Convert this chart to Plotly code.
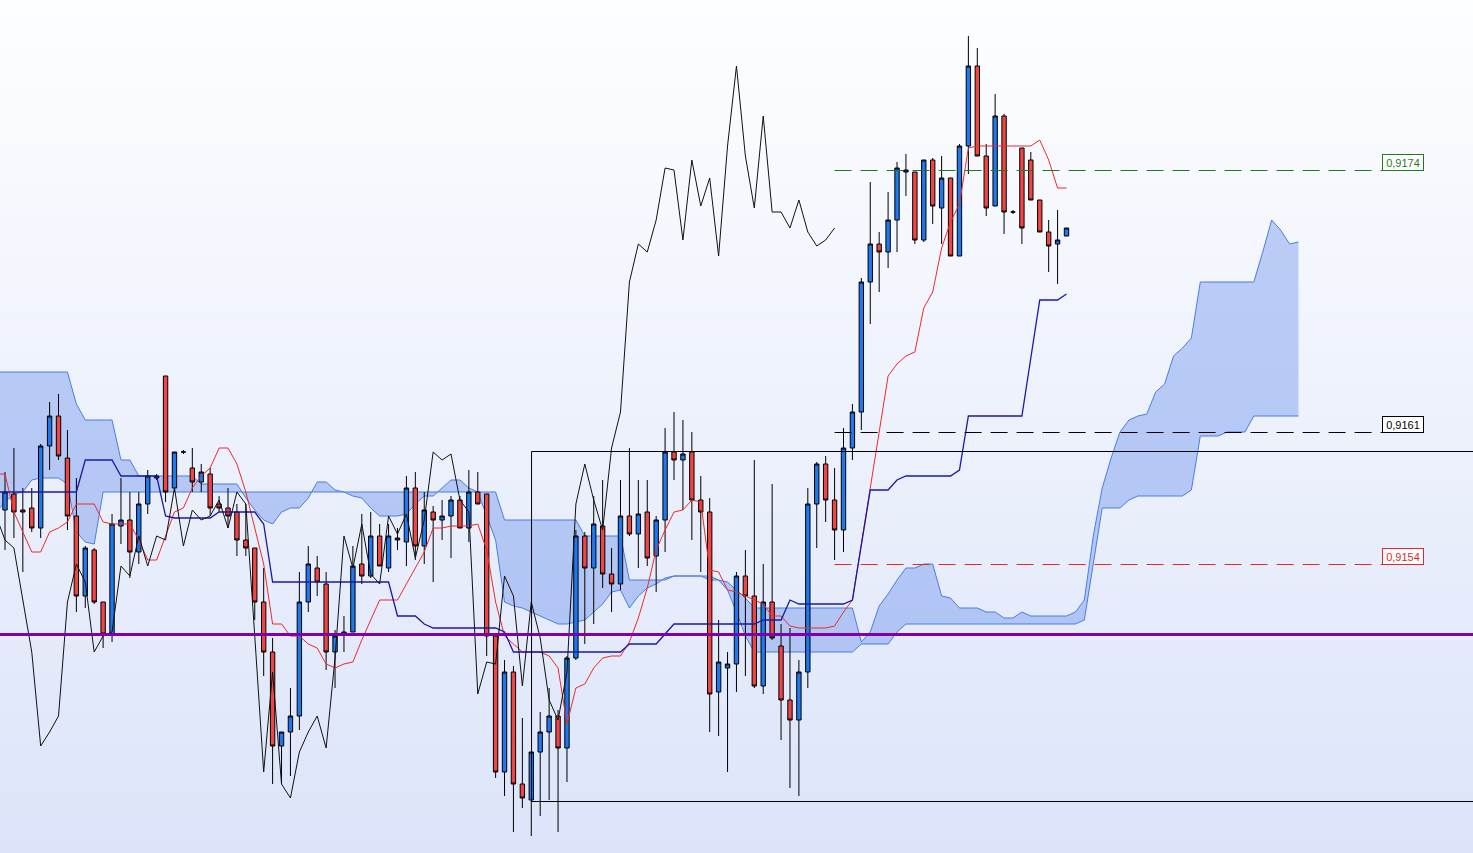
import plotly.graph_objects as go

# candles, one per bar (index 0..119)
opens = [
    0.91571, 0.91579, 0.91571, 0.91572, 0.91562, 0.91603, 0.91618, 0.91597, 0.91568, 0.91528,
    0.91551, 0.91525, 0.91509, 0.91563, 0.91566, 0.91550, 0.91574, 0.91588, 0.91638, 0.91582,
    0.91600, 0.91592, 0.91585, 0.91589, 0.91574, 0.91572, 0.91570, 0.91556, 0.91552, 0.91525,
    0.91500, 0.91453, 0.91460, 0.91468, 0.91525, 0.91542, 0.91534, 0.91500, 0.91509, 0.91510,
    0.91544, 0.91538, 0.91558, 0.91542, 0.91557, 0.91555, 0.91582, 0.91553, 0.91570, 0.91566,
    0.91568, 0.91576, 0.91562, 0.91580, 0.91579, 0.91508, 0.91440, 0.91490, 0.91434, 0.91426,
    0.91450, 0.91460, 0.91468, 0.91452, 0.91497, 0.91558, 0.91542, 0.91563, 0.91539, 0.91534,
    0.91568, 0.91559, 0.91570, 0.91548, 0.91566, 0.91600, 0.91596, 0.91600, 0.91576, 0.91570,
    0.91480, 0.91492, 0.91494, 0.91538, 0.91528, 0.91483, 0.91525, 0.91503, 0.91476, 0.91466,
    0.91490, 0.91574, 0.91594, 0.91576, 0.91561, 0.91602, 0.91620, 0.91685, 0.91704, 0.91700,
    0.91716, 0.91740, 0.91740, 0.91706, 0.91746, 0.91722, 0.91737, 0.91698, 0.91753, 0.91793,
    0.91748, 0.91723, 0.91768, 0.91720, 0.91752, 0.91746, 0.91726, 0.91710, 0.91704, 0.91708,
]
highs = [
    0.91590, 0.91602, 0.91582, 0.91582, 0.91604, 0.91625, 0.91629, 0.91611, 0.91587, 0.91553,
    0.91552, 0.91525, 0.91569, 0.91587, 0.91580, 0.91580, 0.91591, 0.91589, 0.91638, 0.91600,
    0.91601, 0.91602, 0.91594, 0.91592, 0.91578, 0.91582, 0.91574, 0.91574, 0.91552, 0.91542,
    0.91507, 0.91460, 0.91482, 0.91540, 0.91553, 0.91548, 0.91540, 0.91511, 0.91518, 0.91553,
    0.91569, 0.91570, 0.91564, 0.91564, 0.91562, 0.91588, 0.91590, 0.91580, 0.91573, 0.91576,
    0.91578, 0.91578, 0.91591, 0.91590, 0.91579, 0.91508, 0.91496, 0.91493, 0.91467, 0.91450,
    0.91470, 0.91482, 0.91471, 0.91498, 0.91561, 0.91560, 0.91578, 0.91586, 0.91552, 0.91586,
    0.91602, 0.91586, 0.91586, 0.91568, 0.91612, 0.91620, 0.91616, 0.91610, 0.91588, 0.91577,
    0.91516, 0.91500, 0.91540, 0.91551, 0.91596, 0.91544, 0.91584, 0.91514, 0.91512, 0.91496,
    0.91582, 0.91595, 0.91598, 0.91592, 0.91612, 0.91624, 0.91687, 0.91735, 0.91710, 0.91730,
    0.91745, 0.91749, 0.91740, 0.91746, 0.91747, 0.91748, 0.91737, 0.91754, 0.91808, 0.91802,
    0.91754, 0.91779, 0.91769, 0.91721, 0.91752, 0.91750, 0.91726, 0.91716, 0.91721, 0.91712,
]
lows = [
    0.91551, 0.91557, 0.91540, 0.91560, 0.91557, 0.91591, 0.91596, 0.91561, 0.91520, 0.91522,
    0.91524, 0.91502, 0.91505, 0.91554, 0.91537, 0.91544, 0.91569, 0.91586, 0.91575, 0.91580,
    0.91599, 0.91580, 0.91580, 0.91568, 0.91570, 0.91562, 0.91548, 0.91548, 0.91516, 0.91488,
    0.91434, 0.91434, 0.91438, 0.91461, 0.91520, 0.91528, 0.91491, 0.91482, 0.91500, 0.91510,
    0.91534, 0.91537, 0.91543, 0.91540, 0.91551, 0.91543, 0.91546, 0.91544, 0.91535, 0.91556,
    0.91547, 0.91562, 0.91555, 0.91574, 0.91498, 0.91437, 0.91428, 0.91410, 0.91422, 0.91408,
    0.91418, 0.91426, 0.91410, 0.91435, 0.91496, 0.91504, 0.91514, 0.91532, 0.91520, 0.91531,
    0.91558, 0.91542, 0.91543, 0.91530, 0.91550, 0.91586, 0.91571, 0.91556, 0.91540, 0.91460,
    0.91458, 0.91440, 0.91480, 0.91488, 0.91482, 0.91479, 0.91506, 0.91456, 0.91432, 0.91428,
    0.91482, 0.91552, 0.91565, 0.91546, 0.91550, 0.91596, 0.91611, 0.91664, 0.91680, 0.91692,
    0.91700, 0.91728, 0.91704, 0.91705, 0.91714, 0.91704, 0.91698, 0.91698, 0.91739, 0.91748,
    0.91718, 0.91723, 0.91709, 0.91719, 0.91704, 0.91726, 0.91710, 0.91690, 0.91684, 0.91708,
]
closes = [
    0.91580, 0.91570, 0.91570, 0.91562, 0.91603, 0.91618, 0.91598, 0.91568, 0.91528, 0.91552,
    0.91525, 0.91509, 0.91564, 0.91566, 0.91550, 0.91574, 0.91588, 0.91587, 0.91580, 0.91600,
    0.91600, 0.91585, 0.91590, 0.91572, 0.91572, 0.91568, 0.91556, 0.91552, 0.91525, 0.91500,
    0.91453, 0.91460, 0.91468, 0.91525, 0.91544, 0.91535, 0.91500, 0.91508, 0.91510, 0.91543,
    0.91538, 0.91558, 0.91543, 0.91558, 0.91556, 0.91582, 0.91553, 0.91571, 0.91566, 0.91568,
    0.91576, 0.91562, 0.91580, 0.91574, 0.91508, 0.91440, 0.91490, 0.91434, 0.91427, 0.91450,
    0.91460, 0.91468, 0.91452, 0.91497, 0.91558, 0.91542, 0.91564, 0.91539, 0.91534, 0.91568,
    0.91559, 0.91569, 0.91547, 0.91566, 0.91600, 0.91596, 0.91599, 0.91576, 0.91570, 0.91479,
    0.91495, 0.91494, 0.91538, 0.91528, 0.91483, 0.91525, 0.91507, 0.91476, 0.91466, 0.91490,
    0.91574, 0.91594, 0.91576, 0.91561, 0.91602, 0.91620, 0.91685, 0.91704, 0.91700, 0.91716,
    0.91742, 0.91741, 0.91706, 0.91746, 0.91723, 0.91737, 0.91698, 0.91753, 0.91793, 0.91748,
    0.91722, 0.91768, 0.91720, 0.91720, 0.91712, 0.91726, 0.91710, 0.91703, 0.91706, 0.91712,
]

# ichimoku lines, starting one bar before the first candle (index -1)
tenkan = [
    0.91589,
    0.91589, 0.91570, 0.91560, 0.91550, 0.91550, 0.91560, 0.91562, 0.91565, 0.91574, 0.91574,
    0.91574, 0.91565, 0.91564, 0.91564, 0.91564, 0.91556, 0.91546, 0.91546, 0.91558, 0.91570,
    0.91572, 0.91582, 0.91588, 0.91592, 0.91602, 0.91602, 0.91594, 0.91580, 0.91562, 0.91544,
    0.91514, 0.91514, 0.91508, 0.91508, 0.91504, 0.91502, 0.91494, 0.91492, 0.91494, 0.91495,
    0.91506, 0.91516, 0.91526, 0.91526, 0.91526, 0.91534, 0.91542, 0.91550, 0.91562, 0.91562,
    0.91563, 0.91563, 0.91563, 0.91564, 0.91551, 0.91525, 0.91508, 0.91504, 0.91500, 0.91500,
    0.91500, 0.91498, 0.91492, 0.91464, 0.91482, 0.91484, 0.91492, 0.91497, 0.91498, 0.91498,
    0.91505, 0.91517, 0.91532, 0.91551, 0.91561, 0.91570, 0.91571, 0.91576, 0.91575, 0.91541,
    0.91540, 0.91531, 0.91530, 0.91528, 0.91526, 0.91524, 0.91518, 0.91518, 0.91513, 0.91512,
    0.91512, 0.91512, 0.91512, 0.91513, 0.91520, 0.91526, 0.91554, 0.91581, 0.91608, 0.91638,
    0.91644, 0.91648, 0.91650, 0.91672, 0.91680, 0.91702, 0.91715, 0.91724, 0.91752, 0.91753,
    0.91753, 0.91753, 0.91753, 0.91753, 0.91753, 0.91753, 0.91756, 0.91746, 0.91732, 0.91732,
]
kijun = [
    0.91580,
    0.91580, 0.91580, 0.91580, 0.91580, 0.91580, 0.91580, 0.91580, 0.91580, 0.91580, 0.91596,
    0.91596, 0.91596, 0.91596, 0.91588, 0.91588, 0.91588, 0.91588, 0.91588, 0.91568, 0.91567,
    0.91567, 0.91567, 0.91567, 0.91567, 0.91570, 0.91570, 0.91570, 0.91570, 0.91570, 0.91564,
    0.91535, 0.91535, 0.91535, 0.91535, 0.91535, 0.91535, 0.91535, 0.91535, 0.91535, 0.91535,
    0.91535, 0.91535, 0.91535, 0.91535, 0.91518, 0.91518, 0.91518, 0.91514, 0.91512, 0.91512,
    0.91512, 0.91512, 0.91512, 0.91512, 0.91512, 0.91512, 0.91510, 0.91500, 0.91500, 0.91500,
    0.91500, 0.91500, 0.91500, 0.91500, 0.91500, 0.91500, 0.91500, 0.91500, 0.91500, 0.91500,
    0.91504, 0.91504, 0.91504, 0.91504, 0.91509, 0.91514, 0.91514, 0.91514, 0.91514, 0.91514,
    0.91514, 0.91514, 0.91514, 0.91514, 0.91514, 0.91516, 0.91516, 0.91516, 0.91526, 0.91524,
    0.91524, 0.91524, 0.91524, 0.91524, 0.91524, 0.91526, 0.91554, 0.91581, 0.91581, 0.91581,
    0.91586, 0.91588, 0.91588, 0.91588, 0.91588, 0.91588, 0.91588, 0.91591, 0.91618, 0.91618,
    0.91618, 0.91618, 0.91618, 0.91618, 0.91618, 0.91647, 0.91676, 0.91676, 0.91676, 0.91679,
]
# cloud edges, shifted 26 bars ahead (index -1..145)
span_a = [
    0.91640,
    0.91640, 0.91640, 0.91640, 0.91640, 0.91640, 0.91640, 0.91640, 0.91640, 0.91624, 0.91616,
    0.91616, 0.91616, 0.91616, 0.91596, 0.91596, 0.91588, 0.91588, 0.91588, 0.91588, 0.91588,
    0.91588, 0.91588, 0.91584, 0.91584, 0.91584, 0.91584, 0.91584, 0.91577, 0.91571, 0.91566,
    0.91564, 0.91570, 0.91572, 0.91572, 0.91577, 0.91585, 0.91585, 0.91581, 0.91580, 0.91578,
    0.91577, 0.91572, 0.91568, 0.91568, 0.91568, 0.91569, 0.91574, 0.91578, 0.91578, 0.91582,
    0.91586, 0.91586, 0.91582, 0.91580, 0.91568, 0.91556, 0.91525, 0.91523, 0.91522, 0.91520,
    0.91518, 0.91516, 0.91514, 0.91514, 0.91515, 0.91516, 0.91520, 0.91524, 0.91530, 0.91531,
    0.91522, 0.91528, 0.91532, 0.91534, 0.91537, 0.91538, 0.91538, 0.91538, 0.91538, 0.91538,
    0.91536, 0.91531, 0.91520, 0.91508, 0.91500, 0.91500, 0.91500, 0.91500, 0.91500, 0.91500,
    0.91500, 0.91500, 0.91500, 0.91500, 0.91500, 0.91500, 0.91504, 0.91504, 0.91504, 0.91504,
    0.91510, 0.91514, 0.91514, 0.91514, 0.91514, 0.91514, 0.91514, 0.91514, 0.91514, 0.91514,
    0.91514, 0.91514, 0.91514, 0.91514, 0.91514, 0.91514, 0.91514, 0.91514, 0.91514, 0.91514,
    0.91514, 0.91516, 0.91544, 0.91572, 0.91572, 0.91572, 0.91576, 0.91578, 0.91578, 0.91578,
    0.91578, 0.91578, 0.91578, 0.91581, 0.91608, 0.91608, 0.91608, 0.91610, 0.91610, 0.91610,
    0.91618, 0.91618, 0.91618, 0.91618, 0.91618, 0.91618,
]
span_b = [
    0.91570,
    0.91575, 0.91579, 0.91580, 0.91586, 0.91587, 0.91587, 0.91587, 0.91584, 0.91560, 0.91555,
    0.91554, 0.91580, 0.91580, 0.91580, 0.91580, 0.91580, 0.91580, 0.91580, 0.91580, 0.91580,
    0.91580, 0.91580, 0.91580, 0.91580, 0.91580, 0.91580, 0.91580, 0.91580, 0.91580, 0.91580,
    0.91580, 0.91580, 0.91580, 0.91580, 0.91580, 0.91580, 0.91580, 0.91580, 0.91580, 0.91580,
    0.91580, 0.91580, 0.91580, 0.91580, 0.91580, 0.91580, 0.91580, 0.91580, 0.91580, 0.91580,
    0.91580, 0.91580, 0.91580, 0.91580, 0.91580, 0.91580, 0.91566, 0.91566, 0.91566, 0.91566,
    0.91566, 0.91566, 0.91566, 0.91566, 0.91566, 0.91558, 0.91558, 0.91558, 0.91558, 0.91558,
    0.91536, 0.91536, 0.91536, 0.91536, 0.91536, 0.91538, 0.91538, 0.91538, 0.91538, 0.91536,
    0.91536, 0.91535, 0.91531, 0.91527, 0.91522, 0.91522, 0.91522, 0.91522, 0.91522, 0.91522,
    0.91522, 0.91522, 0.91522, 0.91522, 0.91522, 0.91522, 0.91505, 0.91510, 0.91523, 0.91529,
    0.91536, 0.91542, 0.91542, 0.91544, 0.91544, 0.91528, 0.91527, 0.91522, 0.91522, 0.91522,
    0.91520, 0.91520, 0.91517, 0.91517, 0.91520, 0.91518, 0.91518, 0.91518, 0.91518, 0.91518,
    0.91520, 0.91526, 0.91558, 0.91582, 0.91597, 0.91610, 0.91616, 0.91618, 0.91619, 0.91630,
    0.91634, 0.91648, 0.91652, 0.91657, 0.91685, 0.91685, 0.91685, 0.91685, 0.91685, 0.91685,
    0.91685, 0.91700, 0.91716, 0.91711, 0.91704, 0.91705,
]

# horizontal levels drawn by hand on the chart
levels = [0.9174075, 0.9160975, 0.9154375]
level_labels = ["0,9174", "0,9161", "0,9154"]
level_colors = ["#1d7a1d", "#000000", "#e02a2a"]
purple_level = 0.9150875
box_left = 59.03
box_top = 0.9160025
box_bottom = 0.9142525

x_range = [-0.56, 164.57]
y_range = [0.913995, 0.91826]

bars = list(range(len(closes)))
line_x = list(range(-1, len(tenkan) - 1))
cloud_x = list(range(-1, len(span_a) - 1))
shift = 26

fig = go.Figure()

# background gradient
fig.add_trace(go.Heatmap(
    x=[x_range[0], x_range[1]], y=[y_range[0], 0.91610, y_range[1]],
    z=[[0, 0], [0.5, 0.5], [1, 1]],
    colorscale=[[0, "#dbe4f9"], [0.5, "#edf1fc"], [1, "#fdfeff"]],
    zsmooth="best", showscale=False, hoverinfo="skip",
))

fig.add_trace(go.Scatter(x=cloud_x, y=span_a, mode="lines",
                         line=dict(color="#4a7de2", width=1), hoverinfo="skip"))
fig.add_trace(go.Scatter(x=cloud_x, y=span_b, mode="lines", fill="tonexty",
                         fillcolor="rgba(100,140,236,0.40)",
                         line=dict(color="#4a7de2", width=1), hoverinfo="skip"))

# candles and lines sit on an overlaid axis pair so they are drawn above the cloud
fig.add_trace(go.Candlestick(
    x=bars, open=opens, high=highs, low=lows, close=closes,
    xaxis="x2", yaxis="y2", whiskerwidth=0,
    increasing=dict(fillcolor="#1f78ee", line=dict(color="black", width=1)),
    decreasing=dict(fillcolor="#f04545", line=dict(color="black", width=1)),
))
fig.add_trace(go.Scatter(x=line_x, y=tenkan, mode="lines", xaxis="x2", yaxis="y2",
                         line=dict(color="#ee2a2a", width=1)))
fig.add_trace(go.Scatter(x=line_x, y=kijun, mode="lines", xaxis="x2", yaxis="y2",
                         line=dict(color="#1a1aa8", width=1.3)))
fig.add_trace(go.Scatter(x=list(range(-1, len(closes) - shift)), y=closes[shift - 1:],
                         mode="lines", xaxis="x2", yaxis="y2",
                         line=dict(color="#111111", width=1)))

shapes = [
    dict(type="line", xref="paper", yref="y", x0=0, x1=1, y0=purple_level, y1=purple_level,
         line=dict(color="#8000b0", width=3)),
    dict(type="rect", xref="x", yref="y", x0=box_left, x1=170, y0=box_bottom, y1=box_top,
         line=dict(color="black", width=1)),
]
annotations = []
for value, label, color in zip(levels, level_labels, level_colors):
    shapes.append(dict(type="line", xref="x", yref="y", x0=93, x1=154.4, y0=value, y1=value,
                       line=dict(color=color, width=1, dash="17px,9px")))
    annotations.append(dict(x=154.4, y=value, xref="x", yref="y", xanchor="left", yanchor="bottom",
                            text=label, showarrow=False, width=40, height=15,
                            bgcolor="white", bordercolor=color, borderwidth=1, borderpad=0,
                            font=dict(family="Liberation Sans, Arial", size=11, color=color)))

axis_style = dict(visible=False, showgrid=False, zeroline=False, fixedrange=True)
fig.update_layout(
    width=1473, height=853,
    margin=dict(l=0, r=0, t=0, b=0),
    paper_bgcolor="white", plot_bgcolor="white",
    showlegend=False,
    xaxis=dict(range=x_range, rangeslider=dict(visible=False), **axis_style),
    yaxis=dict(range=y_range, **axis_style),
    xaxis2=dict(range=x_range, overlaying="x", rangeslider=dict(visible=False), **axis_style),
    yaxis2=dict(range=y_range, overlaying="y", **axis_style),
    shapes=shapes,
    annotations=annotations,
)

# the page body has a default margin; drop it so the chart fills the window
fig.write_html("out.html", config={"displayModeBar": False},
               post_script="document.body.style.margin='0';")
